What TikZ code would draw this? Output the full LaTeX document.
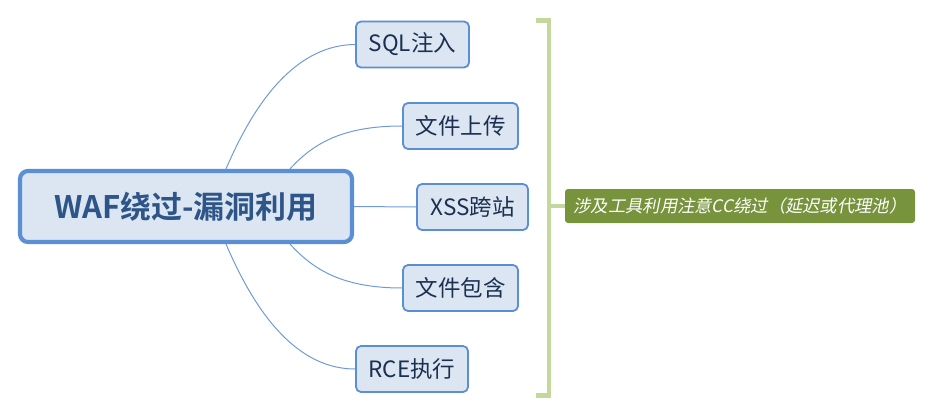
\documentclass[tikz,border=0pt]{standalone}
\usepackage{fontspec}
\setmainfont{Noto Sans CJK SC}
\newfontfamily\cjkbold{Noto Sans CJK SC Bold}
\newfontfamily\cjkit[FakeSlant=0.2]{Noto Sans CJK SC}
\definecolor{boxfill}{HTML}{DCE6F2}
\definecolor{boxline}{HTML}{5B8FD4}
\definecolor{boxtext}{HTML}{1B3050}
\definecolor{roottext}{HTML}{2E5588}
\definecolor{linkline}{HTML}{6E9BD8}
\definecolor{brace}{HTML}{C4D79C}
\definecolor{notefill}{HTML}{77933C}
\tikzset{
  rootbox/.style={draw=boxline, fill=boxfill, line width=4.2pt, rounded corners=8pt,
    minimum width=332pt, minimum height=71pt, inner sep=0pt,
    text=roottext, font=\cjkbold\fontsize{31}{36}\selectfont},
  topicbox/.style={draw=boxline, fill=boxfill, line width=1.8pt, rounded corners=5pt,
    minimum height=46pt, inner sep=0pt,
    text=boxtext, font=\fontsize{22.5}{27}\selectfont},
  link/.style={draw=linkline, line width=1pt},
  bracket/.style={draw=brace, line width=4.6pt},
  notebox/.style={fill=notefill, rounded corners=3pt, minimum width=350pt, minimum height=34pt,
    inner sep=0pt, text=white, font=\cjkit\fontsize{17.3}{21}\selectfont}
}
\begin{document}
\begin{tikzpicture}[x=1pt,y=-1pt]
\useasboundingbox (0,0) rectangle (931,415);
\node[rootbox] (root) at (186,206.5) {WAF绕过-漏洞利用};
\node[topicbox, minimum width=113pt] (sql) at (412.5,44.5) {SQL注入};
\node[topicbox, minimum width=115pt] (upl) at (460.5,126) {文件上传};
\node[topicbox, minimum width=111pt] (xss) at (472.5,207) {XSS跨站};
\node[topicbox, minimum width=115pt] (inc) at (460.5,288) {文件包含};
\node[topicbox, minimum width=112pt] (rce) at (412,369) {RCE执行};
\node[notebox] (note) at (740,206) {涉及工具利用注意CC绕过（延迟或代理池）};

\draw[link] ([xshift=40pt]root.north) .. controls (245,125) and (285,45) .. (sql.west);
\draw[link] ([xshift=104pt]root.north) .. controls (312,145) and (340,126) .. (upl.west);
\draw[link] (root.east) -- (xss.west);
\draw[link] ([xshift=104pt]root.south) .. controls (312,268) and (340,288) .. (inc.west);
\draw[link] ([xshift=40pt]root.south) .. controls (245,288) and (285,369) .. (rce.west);

\coordinate (bt) at (536,20.5);
\coordinate (bb) at (536,395.5);
\draw[bracket] (bt) -- (549,20.5) -- (549,395.5) -- (bb);
\draw[bracket] (note.west) -- (549,206);
\end{tikzpicture}
\end{document}
